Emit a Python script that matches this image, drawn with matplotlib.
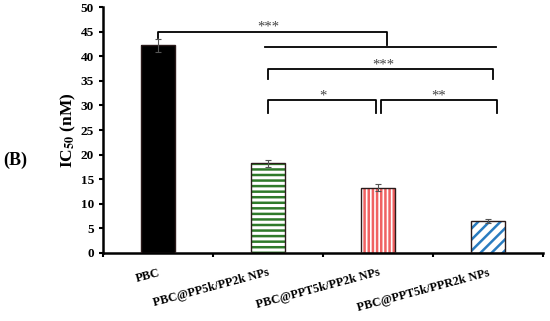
import matplotlib.pyplot as plt

categories = ['PBC', 'PBC@PP5k/PP2k NPs', 'PBC@PPT5k/PP2k NPs', 'PBC@PPT5k/PPR2k NPs']
ic50 = [42.2, 18.2, 13.3, 6.5]
err = [1.3, 0.8, 0.7, 0.5]
face = ['black', 'white', 'white', 'white']
hatch_col = ['black', '#2f7a2a', '#f06262', '#2a7cc0']
hatches = ['', '---', '||||', '///']
yticks = list(range(0, 55, 5))

plt.rcParams['font.family'] = ['Liberation Serif', 'DejaVu Serif']
plt.rcParams['font.weight'] = 'bold'
plt.rcParams['mathtext.fontset'] = 'stix'
plt.rcParams['hatch.linewidth'] = 1.8

fig = plt.figure(figsize=(5.5, 3.21), dpi=100)
ax = fig.add_axes([0.187, 0.212, 0.8, 0.766])

x = list(range(len(categories)))
for i in x:
	ax.bar(i, ic50[i], width=0.31, color=face[i], edgecolor=hatch_col[i], hatch=hatches[i], linewidth=0, zorder=2)
	ax.bar(i, ic50[i], width=0.31, fill=False, edgecolor='#2a1a1a', linewidth=1.0, zorder=3)
ax.errorbar(x, ic50, yerr=err, fmt='none', ecolor='#555555', elinewidth=0.8, capsize=2.5, capthick=0.8, zorder=4)

# significance brackets
lw = 1.3
ax.plot([0, 0, 2.08, 2.08], [43.8, 45, 45, 42.2], color='black', lw=lw)
ax.plot([0.97, 3.07], [41.9, 41.9], color='black', lw=lw)
ax.plot([1.0, 1.0, 3.05, 3.05], [35.3, 37.5, 37.5, 35.3], color='black', lw=lw)
ax.plot([1.0, 1.0, 1.98, 1.98], [28.5, 31.1, 31.1, 28.5], color='black', lw=lw)
ax.plot([2.03, 2.03, 3.08, 3.08], [28.5, 31.1, 31.1, 28.5], color='black', lw=lw)
star_kw = dict(ha='center', va='bottom', fontsize=10.5, color='#444444', fontweight='normal')
ax.text(1.0, 44.6, '***', **star_kw)
ax.text(2.05, 36.9, '***', **star_kw)
ax.text(1.5, 30.5, '*', **star_kw)
ax.text(2.55, 30.5, '**', **star_kw)

ax.set_xlim(-0.5, 3.5)
ax.set_ylim(0, 50)
ax.set_yticks(yticks)
ax.set_xticks([-0.5, 0.5, 1.5, 2.5, 3.5])
ax.set_xticklabels([])
ax.set_xticks(x, minor=True)
ax.set_xticklabels(categories, minor=True, rotation=15, ha='right', rotation_mode='anchor')
ax.tick_params(axis='x', which='minor', length=0, pad=10, labelsize=8.8)
ax.tick_params(axis='both', which='major', direction='out', width=1.5, length=3, labelsize=9.5)
for s in ['top', 'right']:
	ax.spines[s].set_visible(False)
for s in ['left', 'bottom']:
	ax.spines[s].set_linewidth(1.8)

ax.set_ylabel(r'IC$_{\mathbf{50}}$ (nM)', fontsize=12.5, fontweight='bold', labelpad=2)
fig.text(0.005, 0.5, '(B)', fontsize=13, fontweight='bold', va='center')

fig.savefig('out.png', dpi=100)
